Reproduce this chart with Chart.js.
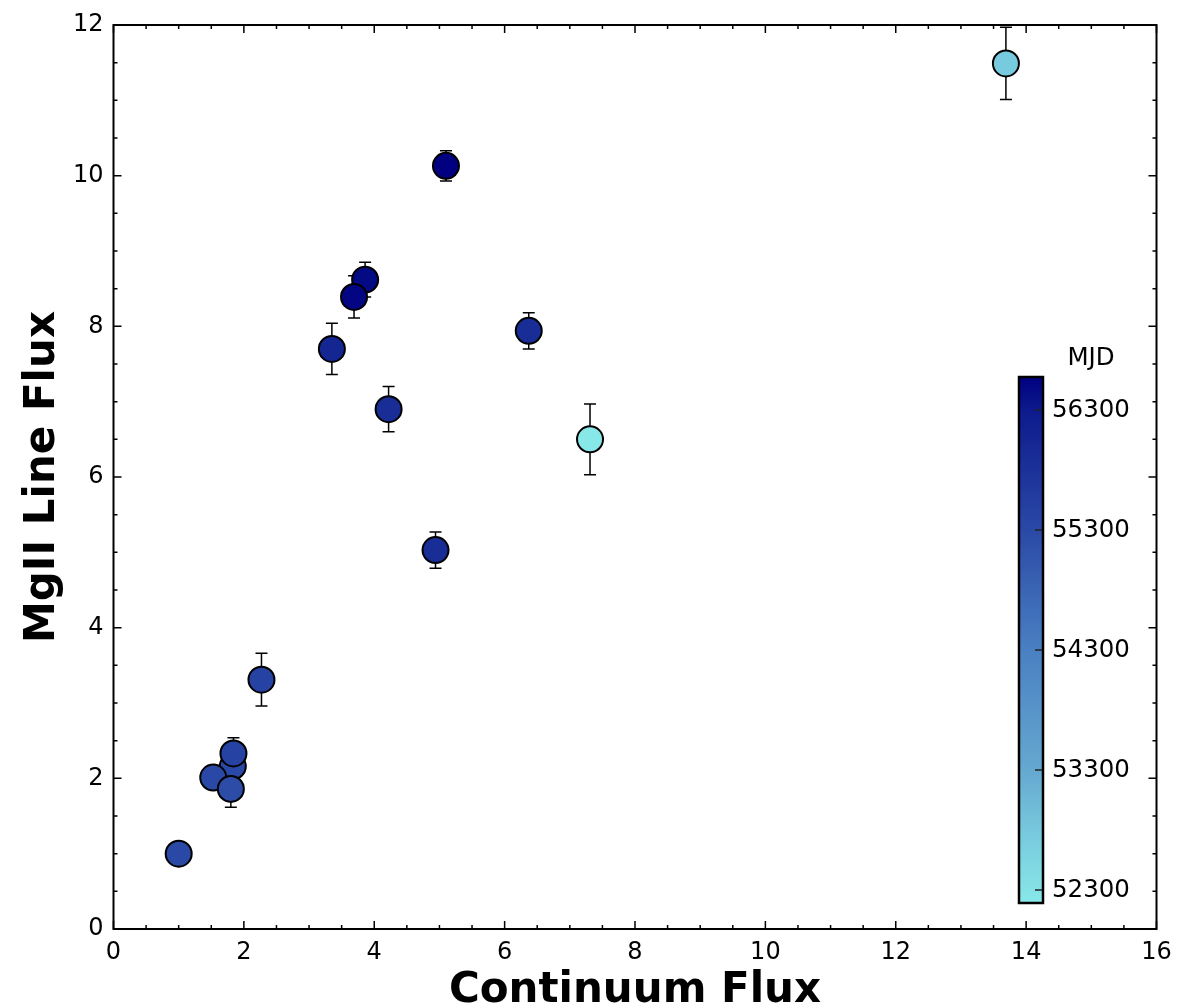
<!DOCTYPE html>
<html>
<head>
<meta charset="utf-8">
<script src="https://cdn.jsdelivr.net/npm/chart.js@4.4.1/dist/chart.umd.min.js"></script>
<style>
  html, body { margin: 0; padding: 0; background: #ffffff; }
  #wrap { width: 1200px; height: 1008px; }
</style>
</head>
<body>
<div id="wrap"><canvas id="chart" width="1200" height="1008"></canvas></div>
<script>
// Continuum flux vs. MgII line flux, coloured by observation date (MJD)
const continuumFlux = [1.00, 1.83, 1.53, 1.80, 1.84, 2.27, 3.35, 3.86, 3.69, 4.22, 4.94, 5.10, 6.37, 7.31, 13.69];
const mgiiFlux      = [1.00, 2.16, 2.01, 1.86, 2.33, 3.31, 7.70, 8.62, 8.39, 6.90, 5.03, 10.13, 7.94, 6.50, 11.49];
const mgiiErr       = [0.10, 0.15, 0.12, 0.245, 0.21, 0.35, 0.34, 0.23, 0.28, 0.30, 0.24, 0.20, 0.24, 0.47, 0.48];
const mjd           = [55300, 55300, 55300, 55250, 55450, 55450, 56050, 56480, 56520, 55900, 55900, 56575, 55900, 52192, 52750];

const xTicks = [0, 2, 4, 6, 8, 10, 12, 14, 16];
const yTicks = [0, 2, 4, 6, 8, 10, 12];
const mjdTicks = [52300, 53300, 54300, 55300, 56300];
const mjdRange = [52192, 56575];

// colour map stops, from oldest (0) to newest (1)
const cmapStops = [
  [0.000, [136, 232, 232]],
  [0.130, [120, 202, 222]],
  [0.253, [101, 168, 208]],
  [0.481, [ 74, 128, 194]],
  [0.709, [ 42,  73, 166]],
  [0.937, [ 13,  26, 140]],
  [1.000, [  0,   0, 128]]
];

function cmap(t) {
  t = Math.max(0, Math.min(1, t));
  for (let i = 1; i < cmapStops.length; i++) {
    const [t1, c1] = cmapStops[i];
    const [t0, c0] = cmapStops[i - 1];
    if (t <= t1) {
      const f = (t - t0) / (t1 - t0);
      const c = c0.map((v, k) => Math.round(v + (c1[k] - v) * f));
      return `rgb(${c[0]},${c[1]},${c[2]})`;
    }
  }
  const c = cmapStops[cmapStops.length - 1][1];
  return `rgb(${c[0]},${c[1]},${c[2]})`;
}
const mjdToT = v => (v - mjdRange[0]) / (mjdRange[1] - mjdRange[0]);

const FONT = 'DejaVu Sans';

const points = continuumFlux.map((x, i) => ({ x: x, y: mgiiFlux[i], err: mgiiErr[i] }));
const colors = mjd.map(m => cmap(mjdToT(m)));

// vertical error bars, drawn beneath the markers
const errorBars = {
  id: 'errorBars',
  beforeDatasetsDraw(chart) {
    const { ctx, scales: { x, y } } = chart;
    ctx.save();
    ctx.strokeStyle = '#000';
    ctx.lineWidth = 1.5;
    points.forEach(p => {
      const px = x.getPixelForValue(p.x);
      const top = y.getPixelForValue(p.y + p.err);
      const bot = y.getPixelForValue(p.y - p.err);
      ctx.beginPath();
      ctx.moveTo(px, top); ctx.lineTo(px, bot);
      ctx.moveTo(px - 6, top); ctx.lineTo(px + 6, top);
      ctx.moveTo(px - 6, bot); ctx.lineTo(px + 6, bot);
      ctx.stroke();
    });
    ctx.restore();
  }
};

// axes frame with inward major/minor ticks on all four sides
const frameTicks = {
  id: 'frameTicks',
  afterDraw(chart) {
    const { ctx, chartArea: a, scales: { x, y } } = chart;
    ctx.save();
    ctx.strokeStyle = '#000';
    ctx.lineWidth = 1.5;
    ctx.beginPath();
    for (let v = x.min; v <= x.max + 1e-9; v += 0.5) {
      const major = xTicks.includes(Math.round(v * 10) / 10);
      const len = major ? 8 : 4;
      const px = x.getPixelForValue(v);
      ctx.moveTo(px, a.bottom); ctx.lineTo(px, a.bottom - len);
      ctx.moveTo(px, a.top); ctx.lineTo(px, a.top + len);
    }
    for (let v = y.min; v <= y.max + 1e-9; v += 0.5) {
      const major = yTicks.includes(Math.round(v * 10) / 10);
      const len = major ? 8 : 4;
      const py = y.getPixelForValue(v);
      ctx.moveTo(a.left, py); ctx.lineTo(a.left + len, py);
      ctx.moveTo(a.right, py); ctx.lineTo(a.right - len, py);
    }
    ctx.stroke();
    ctx.lineWidth = 2;
    ctx.strokeRect(a.left, a.top, a.right - a.left, a.bottom - a.top);
    ctx.restore();
  }
};

// MJD colour bar inside the plot area
const colorBar = {
  id: 'colorBar',
  afterDraw(chart) {
    const { ctx } = chart;
    const L = 1019, R = 1043, T = 377, B = 903;
    const H = B - T;
    ctx.save();
    const g = ctx.createLinearGradient(0, B, 0, T);
    cmapStops.forEach(([t]) => g.addColorStop(t, cmap(t)));
    ctx.fillStyle = g;
    ctx.fillRect(L, T, R - L, H);
    ctx.strokeStyle = '#222';
    ctx.lineWidth = 1.5;
    ctx.beginPath();
    mjdTicks.forEach(v => {
      const py = B - mjdToT(v) * H;
      ctx.moveTo(R, py); ctx.lineTo(R - 8, py);
    });
    ctx.stroke();
    ctx.strokeStyle = '#000';
    ctx.lineWidth = 2.5;
    ctx.strokeRect(L, T, R - L, H);
    ctx.fillStyle = '#000';
    ctx.font = `24.5px "${FONT}"`;
    ctx.textAlign = 'left';
    ctx.textBaseline = 'middle';
    mjdTicks.forEach(v => {
      const py = B - mjdToT(v) * H;
      ctx.fillText(String(v), 1052, py + 1);
    });
    ctx.textAlign = 'center';
    ctx.textBaseline = 'alphabetic';
    ctx.fillText('MJD', 1091, 365);
    ctx.restore();
  }
};

new Chart(document.getElementById('chart'), {
  type: 'scatter',
  data: {
    datasets: [{
      data: points,
      pointRadius: 13,
      pointHoverRadius: 13,
      pointBorderWidth: 2,
      pointHoverBorderWidth: 2,
      pointBorderColor: '#000',
      pointBackgroundColor: colors,
      pointHoverBackgroundColor: colors
    }]
  },
  options: {
    responsive: false,
    animation: false,
    devicePixelRatio: 1,
    events: [],
    layout: { padding: { top: 25, right: 43.5, left: 0, bottom: 0 } },
    plugins: { legend: { display: false }, tooltip: { enabled: false } },
    scales: {
      x: {
        type: 'linear', min: 0, max: 16,
        afterBuildTicks: s => { s.ticks = xTicks.map(v => ({ value: v })); },
        afterFit: s => { s.height = 79; },
        grid: { display: false, drawTicks: false },
        border: { display: false },
        ticks: { color: '#000', padding: 9, font: { family: FONT, size: 24 }, maxRotation: 0 },
        title: {
          display: true, text: 'Continuum Flux', color: '#000',
          font: { family: FONT, size: 42, weight: 'bold', lineHeight: 1 },
          padding: { top: 0, bottom: -4 }
        }
      },
      y: {
        type: 'linear', min: 0, max: 12,
        afterBuildTicks: s => { s.ticks = yTicks.map(v => ({ value: v })); },
        afterFit: s => { s.width = 113.5; },
        grid: { display: false, drawTicks: false },
        border: { display: false },
        ticks: { color: '#000', padding: 10, font: { family: FONT, size: 24 } },
        title: {
          display: true, text: 'MgII Line Flux', color: '#000',
          font: { family: FONT, size: 42, weight: 'bold', lineHeight: 1 },
          padding: { top: 22, bottom: 0 }
        }
      }
    }
  },
  plugins: [errorBars, frameTicks, colorBar]
});
</script>
</body>
</html>
